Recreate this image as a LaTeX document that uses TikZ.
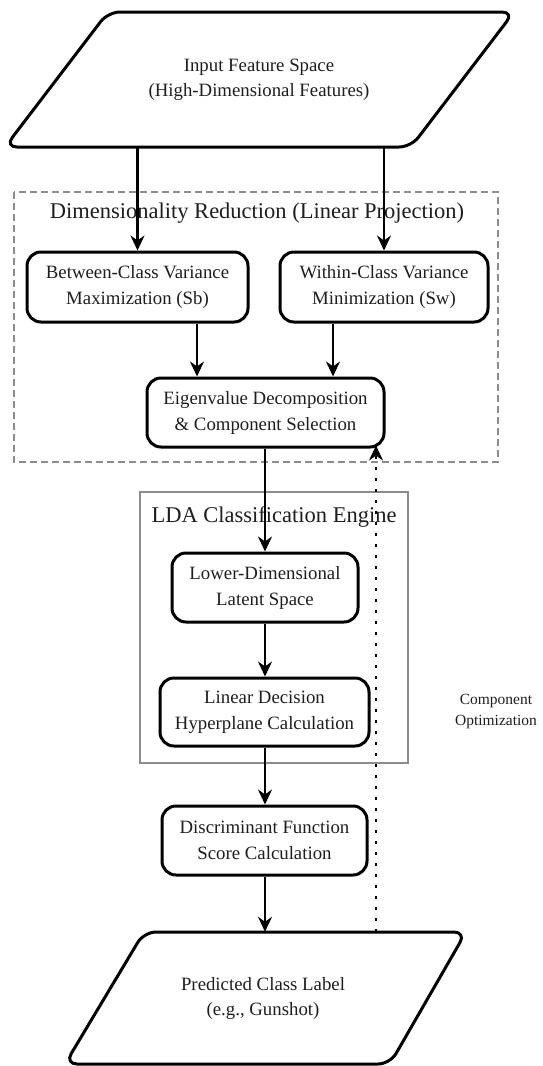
\documentclass[tikz,border=0pt]{standalone}
\usepackage{fontspec}
\setmainfont{Liberation Serif}
\usetikzlibrary{arrows.meta}
\definecolor{textc}{HTML}{1E1E1E}
\definecolor{clgray}{HTML}{8C8C8C}
\begin{document}
\begin{tikzpicture}[x=1pt,y=-1pt,
  proc/.style={draw=black, line width=3pt, rounded corners=14pt, align=center,
    font=\fontsize{18.8}{26}\selectfont, text=textc, inner sep=0pt},
  paratext/.style={align=center, font=\fontsize{18.8}{25}\selectfont, text=textc, inner sep=0pt},
  parashape/.style={draw=black, line width=3pt, rounded corners=12pt},
  arr/.style={line width=2.8pt, -{Stealth[length=15pt,width=14pt,inset=5pt]}},
  dotarr/.style={line width=2.2pt, dash pattern=on 2.5pt off 8.5pt, -{Stealth[length=15pt,width=14pt,inset=5pt]}, shorten >=-3pt},
  clusterdash/.style={draw=clgray, line width=1.6pt, dash pattern=on 7pt off 4pt},
  clustersolid/.style={draw=clgray, line width=1.6pt},
  cltitle/.style={font=\fontsize{22.5}{26}\selectfont, text=textc, inner sep=0pt},
  sidelabel/.style={align=center, font=\fontsize{15.5}{21}\selectfont, text=textc, inner sep=0pt}
]
\useasboundingbox (0,0) rectangle (542,1066);

% clusters
\draw[clusterdash] (14,192) rectangle (498,462);
\node[cltitle] (dimtitle) at (257,213) {Dimensionality Reduction (Linear Projection)};
\draw[clustersolid] (140,492) rectangle (408,763);
\node[cltitle] (ldatitle) at (274,517) {LDA Classification Engine};

% input parallelogram
\draw[parashape] (5,147) -- (108,12) -- (514,12) -- (411,147) -- cycle;
\node[paratext, minimum height=135pt] (inp) at (259,79.5) {Input Feature Space\\(High-Dimensional Features)};

% process nodes
\node[proc, minimum width=221pt, minimum height=70pt] (between) at (137.5,287) {Between-Class Variance\\Maximization (Sb)};
\node[proc, minimum width=208pt, minimum height=70pt] (within) at (384,287) {Within-Class Variance\\Minimization (Sw)};
\node[proc, minimum width=237pt, minimum height=69pt] (eigen) at (265.5,412.5) {Eigenvalue Decomposition\\\& Component Selection};
\node[proc, minimum width=186pt, minimum height=69pt] (lower) at (265,587.5) {Lower-Dimensional\\Latent Space};
\node[proc, minimum width=209pt, minimum height=68pt] (linear) at (264.5,712) {Linear Decision\\Hyperplane Calculation};
\node[proc, minimum width=205pt, minimum height=69pt] (disc) at (264.5,840.5) {Discriminant Function\\Score Calculation};

% output parallelogram
\draw[parashape] (65,1064) -- (144,932) -- (466,932) -- (390,1064) -- cycle;
\node[paratext, minimum height=132pt] (pred) at (263,998) {Predicted Class Label\\(e.g., Gunshot)};

% side label
\node[sidelabel] (optlabel) at (496,712) {Component\\Optimization};

% helper coordinates
\coordinate (bx) at (197,0);
\coordinate (wx) at (333,0);
\coordinate (ox) at (376,0);

% connectors
\draw[arr] (inp.south -| between) -- (between.north);
\draw[arr] (inp.south -| within) -- (within.north);
\draw[arr] (between.south -| bx) -- (eigen.north -| bx);
\draw[arr] (within.south -| wx) -- (eigen.north -| wx);
\draw[arr] (eigen.south -| lower) -- (lower.north);
\draw[arr] (lower.south) -- (linear.north -| lower);
\draw[arr] (linear.south -| lower) -- (disc.north -| lower);
\draw[arr] (disc.south -| lower) -- (pred.north -| lower);
\draw[dotarr] (pred.north -| ox) -- (eigen.south -| ox);
\end{tikzpicture}
\end{document}
